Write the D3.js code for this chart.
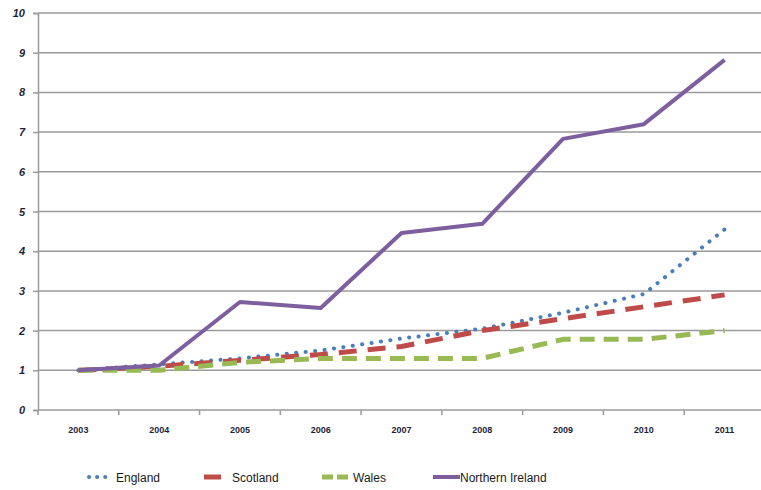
<!DOCTYPE html>
<html>
<head>
<meta charset="utf-8">
<script src="https://cdn.jsdelivr.net/npm/d3@7/dist/d3.min.js"></script>
<style>
  html, body { margin: 0; padding: 0; background: #fff; }
  svg { display: block; }
</style>
</head>
<body>
<svg id="chart" width="761" height="490"></svg>
<script>
// Index of growth relative to 2003 (2003 = 1)
const years = ["2003", "2004", "2005", "2006", "2007", "2008", "2009", "2010", "2011"];
const england = [1.0, 1.15, 1.3, 1.5, 1.8, 2.05, 2.45, 2.92, 4.55];
const scotland = [1.0, 1.1, 1.25, 1.4, 1.6, 2.0, 2.3, 2.6, 2.9];
const wales = [1.0, 1.0, 1.2, 1.3, 1.3, 1.3, 1.78, 1.78, 2.0];
const northernIreland = [1.0, 1.12, 2.72, 2.57, 4.46, 4.69, 6.83, 7.2, 8.82];
const yTicks = [0, 1, 2, 3, 4, 5, 6, 7, 8, 9, 10];

const seriesNames = ["England", "Scotland", "Wales", "Northern Ireland"];
const seriesValues = [england, scotland, wales, northernIreland];

const styles = {
  "England": { color: "#4a7ebb", width: 4, dash: "0.1 9.4", cap: "round" },
  "Scotland": { color: "#be4b48", width: 5, dash: "18 11", cap: "butt" },
  "Wales": { color: "#98b954", width: 5, dash: "15 9", cap: "butt" },
  "Northern Ireland": { color: "#7d5fa0", width: 4, dash: null, cap: "butt" }
};

const svg = d3.select("#chart");
const margin = { left: 38, top: 13, right: -4, bottom: 80 };
const W = 761, H = 490;

const x = d3.scaleBand().domain(years).range([margin.left, W - margin.right]);
const y = d3.scaleLinear().domain([0, 10]).range([410, 13]);

// horizontal gridlines
svg.append("g").selectAll("line").data(yTicks.filter(d => d > 0)).join("line")
  .attr("x1", margin.left).attr("x2", W)
  .attr("y1", d => y(d)).attr("y2", d => y(d))
  .attr("stroke", "#9a9a9a").attr("stroke-width", 1.5);

// y axis
const yAxis = svg.append("g").attr("transform", `translate(${margin.left},0)`)
  .call(d3.axisLeft(y).tickValues(yTicks).tickSize(5).tickPadding(8).tickFormat(d3.format("d")));
yAxis.select(".domain").attr("stroke", "#9a9a9a").attr("stroke-width", 1.5);
yAxis.selectAll(".tick line").attr("stroke", "#9a9a9a").attr("stroke-width", 1.5);
yAxis.selectAll(".tick text")
  .attr("font-family", "Liberation Sans, Arial, sans-serif")
  .attr("font-size", 11).attr("font-weight", "bold").attr("font-style", "italic")
  .attr("fill", "#1f1f3a");

// x axis with ticks at category boundaries
const xg = svg.append("g").attr("transform", `translate(0,${y(0)})`);
xg.append("line").attr("x1", margin.left).attr("x2", W)
  .attr("stroke", "#9a9a9a").attr("stroke-width", 1.5);
const bounds = years.map(d => x(d)).concat([x(years[years.length - 1]) + x.bandwidth()]);
xg.selectAll("line.tk").data(bounds).join("line").attr("class", "tk")
  .attr("x1", d => d).attr("x2", d => d).attr("y1", 0).attr("y2", 5)
  .attr("stroke", "#9a9a9a").attr("stroke-width", 1.5);
xg.selectAll("text").data(years).join("text")
  .attr("x", d => x(d) + x.bandwidth() / 2).attr("y", 23)
  .attr("text-anchor", "middle")
  .attr("font-family", "Liberation Sans, Arial, sans-serif")
  .attr("font-size", 9).attr("font-weight", "bold").attr("fill", "#1f1f3a")
  .text(d => d);

// series lines
const line = d3.line()
  .x((d, i) => x(years[i]) + x.bandwidth() / 2)
  .y(d => y(d));

seriesNames.forEach((name, k) => {
  const s = styles[name];
  svg.append("path").datum(seriesValues[k])
    .attr("d", line)
    .attr("fill", "none")
    .attr("stroke", s.color)
    .attr("stroke-width", s.width)
    .attr("stroke-linecap", s.cap)
    .attr("stroke-linejoin", "round")
    .attr("stroke-dasharray", s.dash);
});

// legend
const legendItems = [
  { name: "England", x0: 89, x1: 110, tx: 116, dash: "0.1 8", cap: "round" },
  { name: "Scotland", x0: 204, x1: 221, tx: 232, dash: null, cap: "butt" },
  { name: "Wales", x0: 322, x1: 348, tx: 353, dash: "11 4", cap: "butt" },
  { name: "Northern Ireland", x0: 433, x1: 460, tx: 460, dash: null, cap: "butt" }
];
const lg = svg.append("g");
legendItems.forEach(it => {
  const s = styles[it.name];
  lg.append("line")
    .attr("x1", it.x0).attr("x2", it.x1).attr("y1", 477).attr("y2", 477)
    .attr("stroke", s.color).attr("stroke-width", s.width)
    .attr("stroke-linecap", it.cap)
    .attr("stroke-dasharray", it.dash);
  lg.append("text")
    .attr("x", it.tx).attr("y", 481.5)
    .attr("font-family", "Liberation Sans, Arial, sans-serif")
    .attr("font-size", 12).attr("fill", "#1a1a1a")
    .text(it.name);
});
</script>
</body>
</html>
